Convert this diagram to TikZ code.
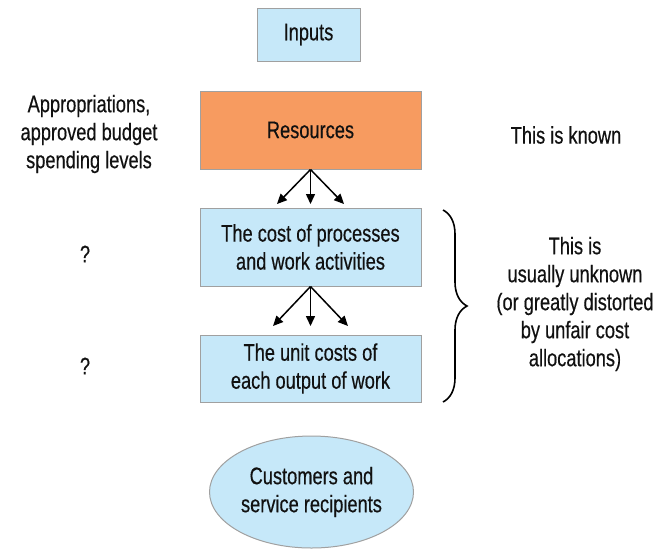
\documentclass[tikz,border=0pt]{standalone}
\usepackage{fontspec}
\setmainfont{Liberation Sans}[FakeStretch=0.76,FakeBold=0.4]
\usetikzlibrary{shapes.geometric,decorations.pathreplacing,arrows.meta}
\definecolor{lblue}{HTML}{C6E8F9}
\definecolor{orng}{HTML}{F79B60}
\definecolor{bgray}{HTML}{A0A0A0}
\definecolor{txt}{HTML}{111111}
\begin{document}
\begin{tikzpicture}[x=1pt,y=-1pt,
  every node/.style={text=txt,font=\fontsize{24}{28}\selectfont,align=center,inner sep=0pt},
  box/.style={draw=bgray,line width=1pt,fill=lblue,minimum width=221pt},
  conn/.style={line width=1.5pt,-{Triangle[length=10pt,width=9pt]}}]
\useasboundingbox (0,0) rectangle (653,550);
\node[box,minimum width=103pt,minimum height=53pt] (inputs) at (308.5,34.5) {Inputs};
\node[box,fill=orng,minimum height=78pt] (res) at (310.5,130) {Resources};
\node[box,minimum height=78pt] (proc) at (310.5,247) {The cost of processes\\and work activities};
\node[box,minimum height=67pt] (unit) at (310.5,368.5) {The unit costs of\\each output of work};
\node[draw=bgray,line width=1pt,fill=lblue,ellipse,minimum width=204pt,minimum height=112pt] (cust) at (311.5,492) {Customers and\\service recipients};
\node (approp) at (89,134) {Appropriations,\\approved budget\\spending levels};
\node (known) at (566,135) {This is known};
\node (q1) at (85,254) {?};
\node (q2) at (85,366) {?};
\node (unknown) at (575,304) {This is\\usually unknown\\(or greatly distorted\\by unfair cost\\allocations)};
\coordinate (a1) at (277,204);
\coordinate (a2) at (310.5,204);
\coordinate (a3) at (344,204);
\coordinate (b1) at (273,326);
\coordinate (b2) at (310.5,326);
\coordinate (b3) at (348,326);
\foreach \t in {a1,a2,a3} \draw[conn] (res.south) -- (\t);
\foreach \t in {b1,b2,b3} \draw[conn] (proc.south) -- (\t);
\coordinate (bt) at (443,210);
\coordinate (bb) at (443,402);
\draw[line width=1.6pt,decorate,decoration={brace,amplitude=24pt,aspect=0.5}] (bt) -- (bb);
\end{tikzpicture}
\end{document}
